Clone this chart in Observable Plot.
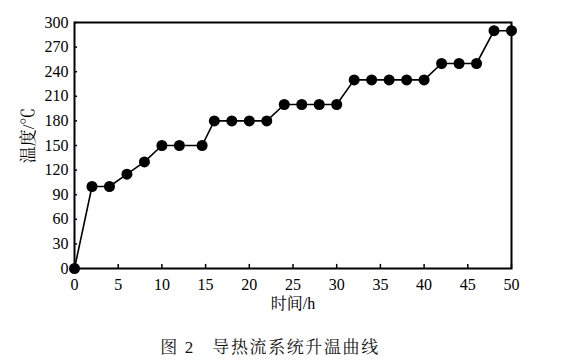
<!DOCTYPE html>
<html>
<head>
<meta charset="utf-8">
<script src="https://cdn.jsdelivr.net/npm/d3@7"></script>
<script src="https://cdn.jsdelivr.net/npm/@observablehq/plot@0.6"></script>
<style>
  html, body { margin: 0; padding: 0; background: #fff; }
  #wrap { width: 562px; height: 361px; position: relative; font-family: "Liberation Serif", "Noto Serif CJK SC", "Noto Sans CJK SC", serif; }
  #caption { position: absolute; left: 0; width: 540px; top: 333px; text-align: center; font-size: 17px; letter-spacing: 1.6px; color: #111; }
</style>
</head>
<body>
<div id="wrap"><div id="chart"></div><div id="caption">图 2&nbsp;&nbsp;&nbsp;导热流系统升温曲线</div></div>
<script>
const times = [0, 2, 4, 6, 8, 10, 12, 14.6, 16, 18, 20, 22, 24, 26, 28, 30, 32, 34, 36, 38, 40, 42, 44, 46, 48, 50];
const temps = [0, 100, 100, 115, 130, 150, 150, 150, 180, 180, 180, 180, 200, 200, 200, 200, 230, 230, 230, 230, 230, 250, 250, 250, 290, 290];
const xTicks = [0, 5, 10, 15, 20, 25, 30, 35, 40, 45, 50];
const yTicks = [0, 30, 60, 90, 120, 150, 180, 210, 240, 270, 300];
const xLabel = "时间/h";
const yLabel = "温度/℃";

const data = times.map((t, i) => ({t, v: temps[i]}));

const chart = Plot.plot({
  width: 562,
  height: 318,
  marginLeft: 74,
  marginRight: 51,
  marginTop: 22,
  marginBottom: 50,
  style: {fontFamily: '"Liberation Serif", "Noto Serif CJK SC", "Noto Sans CJK SC", serif', fontSize: "16px", color: "#000", background: "#fff"},
  x: {domain: [0, 50]},
  y: {domain: [0, 300]},
  marks: [
    Plot.axisX({ticks: xTicks, tickSize: 0, tickPadding: 10, fontSize: 16, label: xLabel, labelAnchor: "center", labelOffset: 40, labelArrow: "none"}),
    Plot.axisY({ticks: yTicks, tickSize: 0, tickPadding: 6, fontSize: 16, label: null}),
    Plot.text([yLabel], {text: d => d, frameAnchor: "left", textAnchor: "middle", rotate: -90, dx: -46, dy: -10, fontSize: 17, fill: "#000"}),
    Plot.ruleX(xTicks, {x: d => d, y1: 0, y2: 5, stroke: "#000", strokeWidth: 1.5}),
    Plot.ruleY(yTicks, {y: d => d, x1: 0, x2: 0.35, stroke: "#000", strokeWidth: 1.5}),
    Plot.frame({stroke: "#000", strokeWidth: 2}),
    Plot.line(data, {x: "t", y: "v", stroke: "#000", strokeWidth: 1.6}),
    Plot.dot(data, {x: "t", y: "v", r: 5.5, fill: "#000", stroke: "none"})
  ]
});
document.getElementById("chart").appendChild(chart);
</script>
</body>
</html>
